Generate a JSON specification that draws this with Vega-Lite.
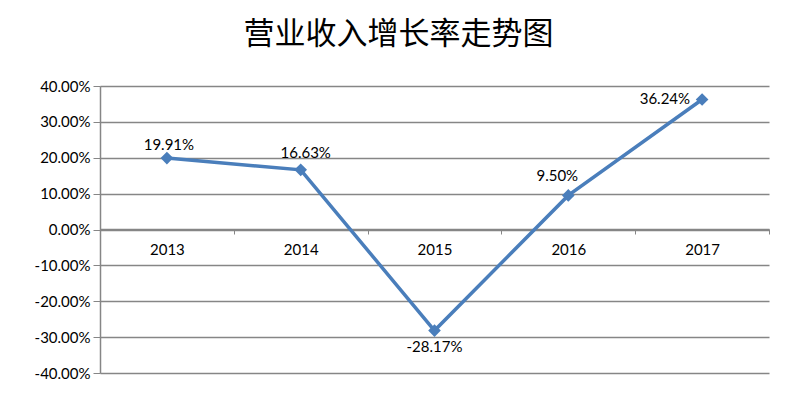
{
  "$schema": "https://vega.github.io/schema/vega-lite/v6.json",
  "width": 669,
  "height": 287,
  "autosize": {"type": "none"},
  "padding": {"left": 100, "top": 86, "right": 28, "bottom": 25},
  "background": "white",
  "title": {
    "text": "营业收入增长率走势图",
    "font": "Noto Sans CJK SC",
    "fontSize": 31,
    "fontWeight": "normal",
    "color": "#000000",
    "anchor": "middle",
    "frame": "group",
    "dx": -36,
    "offset": 28
  },
  "config": {
    "view": {"stroke": null},
    "axis": {
      "labelFont": "Lato",
      "labelFontSize": 15,
      "labelColor": "#000000",
      "domainColor": "#868686",
      "tickColor": "#868686",
      "gridColor": "#868686",
      "domainWidth": 1.5,
      "title": null
    },
    "text": {"font": "Lato", "fontSize": 15, "color": "#000000"}
  },
  "data": {
    "values": [
      {"year": "2013", "rate": 0.1991, "label": "19.91%"},
      {"year": "2014", "rate": 0.1663, "label": "16.63%"},
      {"year": "2015", "rate": -0.2817, "label": "-28.17%"},
      {"year": "2016", "rate": 0.095, "label": "9.50%"},
      {"year": "2017", "rate": 0.3624, "label": "36.24%"}
    ]
  },
  "encoding": {
    "x": {
      "field": "year",
      "type": "ordinal",
      "scale": {"paddingInner": 0, "paddingOuter": 0},
      "axis": {
        "labelAngle": 0,
        "offset": -144,
        "tickBand": "extent",
        "tickSize": 5,
        "labelPadding": 8,
        "grid": false
      }
    },
    "y": {
      "field": "rate",
      "type": "quantitative",
      "scale": {"domain": [-0.4, 0.4], "nice": false, "zero": false},
      "axis": {
        "format": ".2%",
        "labelExpr": "replace(datum.label, '\u2212', '-')",
        "values": [-0.4, -0.3, -0.2, -0.1, 0, 0.1, 0.2, 0.3, 0.4],
        "grid": true,
        "gridWidth": 1.5,
        "tickSize": 7,
        "labelPadding": 3
      }
    }
  },
  "layer": [
    {
      "mark": {"type": "line", "color": "#4a7ebb", "strokeWidth": 3.5}
    },
    {
      "mark": {"type": "point", "shape": "diamond", "filled": true, "color": "#4a7ebb", "size": 160, "opacity": 1}
    },
    {
      "transform": [{"filter": "datum.year === '2013'"}],
      "mark": {"type": "text", "dx": 2, "dy": -5, "baseline": "bottom"},
      "encoding": {"text": {"field": "label"}}
    },
    {
      "transform": [{"filter": "datum.year === '2014'"}],
      "mark": {"type": "text", "dx": 5, "dy": -9, "baseline": "bottom"},
      "encoding": {"text": {"field": "label"}}
    },
    {
      "transform": [{"filter": "datum.year === '2016'"}],
      "mark": {"type": "text", "dx": -11, "dy": -11, "baseline": "bottom"},
      "encoding": {"text": {"field": "label"}}
    },
    {
      "transform": [{"filter": "datum.year === '2015'"}],
      "mark": {"type": "text", "dy": 9, "baseline": "top"},
      "encoding": {"text": {"field": "label"}}
    },
    {
      "transform": [{"filter": "datum.year === '2017'"}],
      "mark": {"type": "text", "dx": -12, "align": "right", "baseline": "middle"},
      "encoding": {"text": {"field": "label"}}
    }
  ]
}
